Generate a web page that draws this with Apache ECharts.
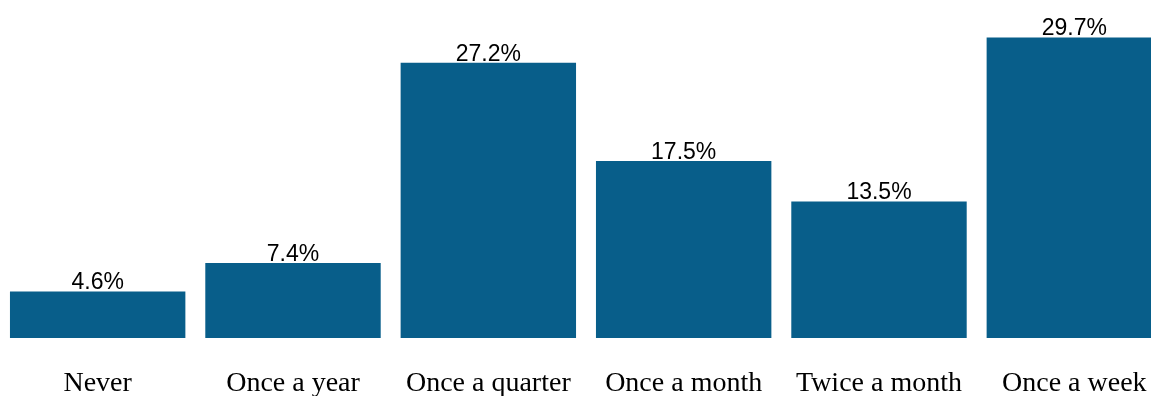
<!DOCTYPE html>
<html>
<head>
<meta charset="utf-8">
<script src="https://cdn.jsdelivr.net/npm/echarts@6/dist/echarts.min.js"></script>
<style>
html,body{margin:0;padding:0;background:#fff;}
#chart{width:1151px;height:396px;}
</style>
</head>
<body>
<div id="chart"></div>
<script>
const categories = ["Never", "Once a year", "Once a quarter", "Once a month", "Twice a month", "Once a week"];
const values = [4.6, 7.4, 27.2, 17.5, 13.5, 29.7];

const chart = echarts.init(document.getElementById('chart'), null, {renderer: 'canvas'});
chart.setOption({
  animation: false,
  backgroundColor: '#ffffff',
  grid: {left: 0, top: 0, right: -21, bottom: 58, containLabel: false, outerBoundsMode: 'none'},
  xAxis: {
    type: 'category',
    data: categories,
    axisLine: {show: false},
    axisTick: {show: false},
    axisLabel: {
      interval: 0,
      margin: 32,
      hideOverlap: false,
      fontFamily: '"Liberation Serif", "Times New Roman", serif',
      fontSize: 28,
      color: '#000'
    }
  },
  yAxis: {
    type: 'value',
    min: 0,
    max: 33.4,
    show: false,
    splitLine: {show: false}
  },
  series: [{
    type: 'bar',
    data: values,
    barCategoryGap: '10.2%',
    itemStyle: {color: '#085e8a'},
    label: {
      show: true,
      position: 'top',
      distance: 0,
      offset: [0, 3],
      formatter: p => p.value.toFixed(1) + '%',
      fontFamily: '"Liberation Sans", Arial, sans-serif',
      fontSize: 23,
      color: '#000'
    }
  }]
});
</script>
</body>
</html>
